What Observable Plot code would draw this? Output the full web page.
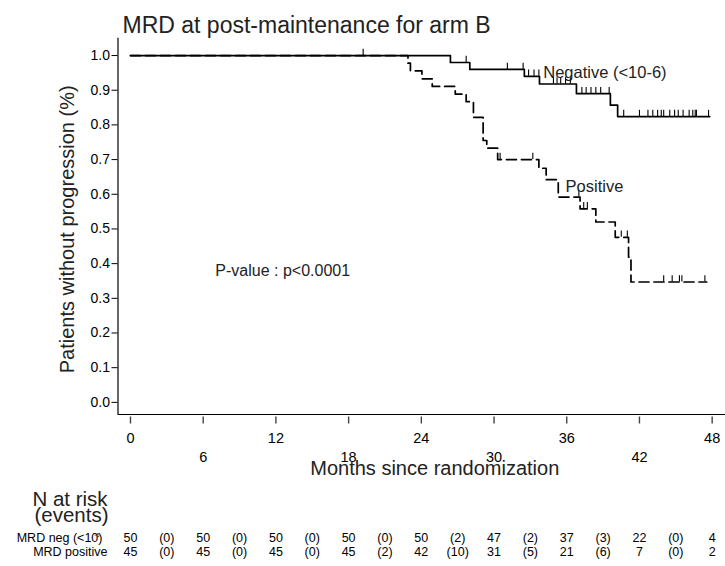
<!DOCTYPE html>
<html><head><meta charset="utf-8">
<script src="https://cdn.jsdelivr.net/npm/d3@7"></script>
<script src="https://cdn.jsdelivr.net/npm/@observablehq/plot@0.6"></script>
<style>body{margin:0;background:#fff} #chart{width:725px;height:566px}</style>
</head><body><div id="chart"></div>
<script>
// Kaplan-Meier step points (months, survival)
const negTimes = [0, 26.4, 28.0, 32.5, 33.75, 36.8, 39.6, 40.2, 47.8];
const negSurv  = [1.0, 0.98, 0.96, 0.94, 0.918, 0.89, 0.857, 0.824, 0.824];
const posTimes = [0, 22.9, 23.1, 24.05, 24.9, 26.8, 27.7, 28.3, 29.1, 29.4, 30.3, 33.7, 34.3, 35.3, 37.1, 38.4, 40.0, 41.1, 41.3, 47.55];
const posSurv  = [1.0, 0.978, 0.956, 0.933, 0.911, 0.889, 0.867, 0.822, 0.755, 0.733, 0.70, 0.675, 0.642, 0.592, 0.558, 0.52, 0.476, 0.419, 0.347, 0.347];
// censoring times
const negCensor = [19.2, 27.7, 31.1, 32.4, 32.85, 33.3, 33.7, 34.9, 35.2, 35.5, 35.9, 36.3, 37.25, 37.6, 38.0, 38.4, 38.8, 39.5, 40.7, 42.0, 42.7, 43.1, 43.5, 43.8, 44.0, 44.5, 44.9, 45.2, 45.6, 46.1, 46.4, 46.6, 46.7, 47.7];
const posCensor = [30.5, 33.2, 37.0, 37.4, 37.7, 40.5, 41.0, 44.0, 44.7, 45.3, 45.5, 47.4];
// axis ticks
const yTicks = [0, 0.1, 0.2, 0.3, 0.4, 0.5, 0.6, 0.7, 0.8, 0.9, 1.0];
const xTicksRow1 = [0, 12, 24, 36, 48];
const xTicksRow2 = [6, 18, 30, 42];
// number at risk table
const riskTimes = [0, 6, 12, 18, 24, 30, 36, 42, 48];
const riskNeg = [50, 50, 50, 50, 50, 47, 37, 22, 4];
const riskPos = [45, 45, 45, 45, 42, 31, 21, 7, 2];
const eventTimes = [3, 9, 15, 21, 27, 33, 39, 45];
const eventsNeg = [0, 0, 0, 0, 2, 2, 3, 0];
const eventsPos = [0, 0, 0, 2, 10, 5, 6, 0];
// texts
const title = "MRD at post-maintenance for arm B";
const yLabel = "Patients without progression (%)";
const xLabel = "Months since randomization";
const pText = "P-value : p<0.0001";
const negLabel = {t: 34.06, s: 0.951, text: "Negative (<10-6)"};
const posLabel = {t: 35.9, s: 0.621, text: "Positive"};
const pLabel = {t: 7.0, s: 0.38, text: pText};

const font = "Liberation Sans, Arial, Helvetica, sans-serif";
function stepAt(times, surv, t) { let s = surv[0]; for (let i = 0; i < times.length; i++) if (times[i] <= t) s = surv[i]; return s; }
const negLine = negTimes.map((t, i) => ({t, s: negSurv[i]}));
const posLine = posTimes.map((t, i) => ({t, s: posSurv[i]}));
const negCens = negCensor.map(t => ({t, s: stepAt(negTimes, negSurv, t)}));
const posCens = posCensor.map(t => ({t, s: stepAt(posTimes, posSurv, t)}));
const rNeg = riskTimes.map((t, i) => ({t, n: String(riskNeg[i])}));
const rPos = riskTimes.map((t, i) => ({t, n: String(riskPos[i])}));
const eNeg = eventTimes.map((t, i) => ({t, n: "(" + eventsNeg[i] + ")"}));
const ePos = eventTimes.map((t, i) => ({t, n: "(" + eventsPos[i] + ")"}));

const chart = Plot.plot({
  width: 725, height: 566,
  marginLeft: 117.5, marginRight: 0, marginTop: 37.7, marginBottom: 152,
  style: {fontFamily: font, background: "white", color: "black", overflow: "visible"},
  x: {domain: [-1.03, 49.1]},
  y: {domain: [-0.035, 1.05]},
  marks: [
    Plot.ruleX([-1.03], {stroke: "black", strokeWidth: 1.2}),
    Plot.ruleY([-0.035], {stroke: "black", strokeWidth: 1.2}),
    Plot.axisY(yTicks, {tickSize: 6, tickPadding: 2, fontSize: 14, tickFormat: d3.format(".1f"), label: null, stroke: "black"}),
    Plot.axisX(xTicksRow1, {tickSize: 7, tickPadding: 9, dy: 2.5, fontSize: 14.5, label: null, stroke: "#444", strokeWidth: 1.4}),
    Plot.axisX(xTicksRow2, {tickSize: 7, tickPadding: 28, dy: 2.5, fontSize: 14.5, label: null, stroke: "#444", strokeWidth: 1.4}),
    Plot.line(negLine, {x: "t", y: "s", curve: "step-after", stroke: "black", strokeWidth: 1.7}),
    Plot.line(posLine, {x: "t", y: "s", curve: "step-after", stroke: "black", strokeWidth: 1.7, strokeDasharray: "10,5"}),
    Plot.ruleX(negCens, {x: "t", y1: "s", y2: d => d.s + 0.018, stroke: "black", strokeWidth: 1.1}),
    Plot.ruleX(posCens, {x: "t", y1: "s", y2: d => d.s + 0.018, stroke: "black", strokeWidth: 1.1}),
    Plot.text([negLabel, posLabel], {x: "t", y: "s", text: "text", textAnchor: "start", fontSize: 16.5, fill: "#222"}),
    Plot.text([pLabel], {x: "t", y: "s", text: "text", textAnchor: "start", fontSize: 16, fill: "#222"}),
    Plot.text([title], {frameAnchor: "top-left", dx: 4.5, dy: -22, textAnchor: "start", fontSize: 23, fill: "#222"}),
    Plot.text([yLabel], {frameAnchor: "left", dx: -50.5, dy: 3, rotate: -90, textAnchor: "middle", fontSize: 20, fill: "#222"}),
    Plot.text([xLabel], {frameAnchor: "bottom", dx: 13, dy: 60.6, fontSize: 20, fill: "#222"}),
    Plot.text(["N at risk"], {frameAnchor: "bottom-left", dx: -48, dy: 91, textAnchor: "middle", fontSize: 20.5, fill: "#222"}),
    Plot.text(["(events)"], {frameAnchor: "bottom-left", dx: -46.5, dy: 107, textAnchor: "middle", fontSize: 20.5, fill: "#222"}),
    Plot.text(["MRD neg (<10)"], {frameAnchor: "bottom-left", dx: -15.5, dy: 127, textAnchor: "end", fontSize: 12.5}),
    Plot.text(["-6"], {frameAnchor: "bottom-left", dx: -21, dy: 122, textAnchor: "middle", fontSize: 6}),
    Plot.text(["MRD positive"], {frameAnchor: "bottom-left", dx: -10.5, dy: 141, textAnchor: "end", fontSize: 12.5}),
    Plot.text(rNeg, {x: "t", text: "n", frameAnchor: "bottom", dy: 127, fontSize: 12.5}),
    Plot.text(eNeg, {x: "t", text: "n", frameAnchor: "bottom", dy: 127, fontSize: 12.5}),
    Plot.text(rPos, {x: "t", text: "n", frameAnchor: "bottom", dy: 141, fontSize: 12.5}),
    Plot.text(ePos, {x: "t", text: "n", frameAnchor: "bottom", dy: 141, fontSize: 12.5})
  ]
});
document.getElementById("chart").appendChild(chart);
</script>
</body></html>
